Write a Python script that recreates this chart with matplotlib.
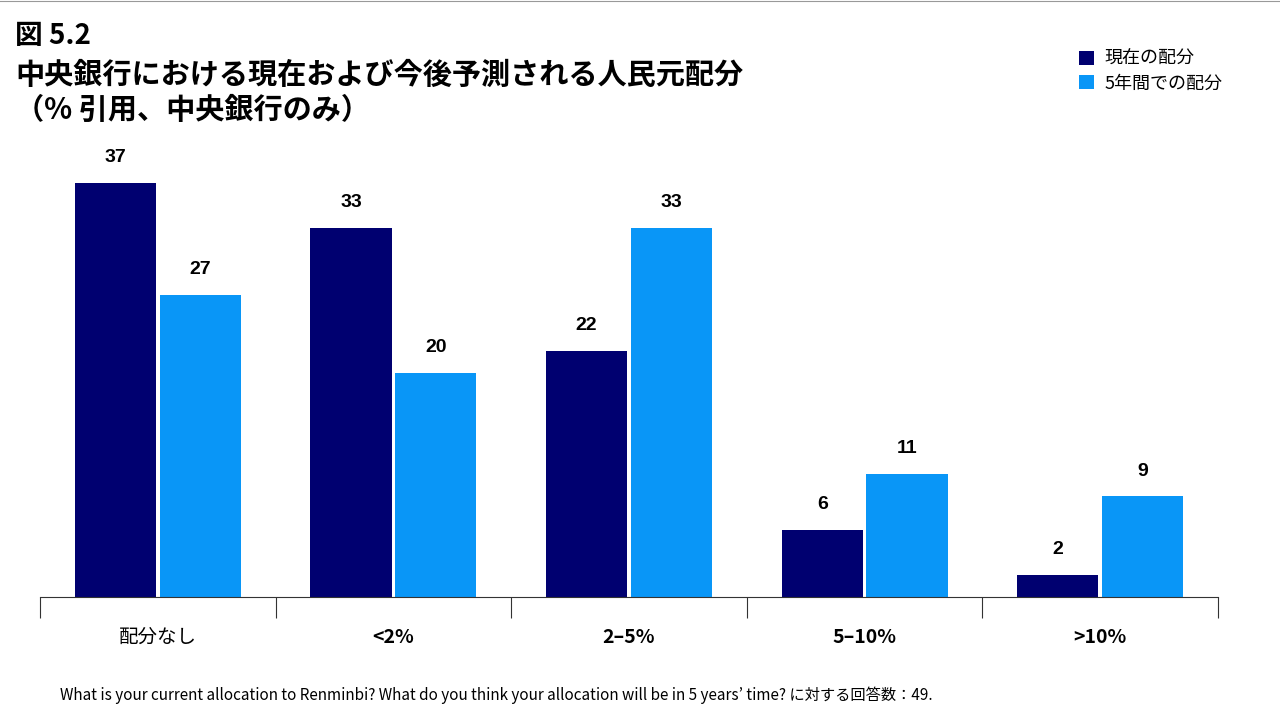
import matplotlib
matplotlib.use("Agg")
import matplotlib.pyplot as plt
import numpy as np

plt.rcParams["font.family"] = "Noto Sans CJK JP"

categories = ["配分なし", "<2%", "2–5%", "5–10%", ">10%"]
current = [37, 33, 22, 6, 2]
future = [27, 20, 33, 11, 9]
series_names = ["現在の配分", "5年間での配分"]

DARK = "#000070"
LIGHT = "#0996f7"

fig = plt.figure(figsize=(12.8, 7.2), dpi=100)
ax = fig.add_axes([40/1280, 123/720, 1218/1280 - 40/1280, 447.6/720])

x = np.arange(len(categories))
w = 0.345
ax.bar(x - 0.18, current, w, color=DARK, label=series_names[0])
ax.bar(x + 0.18, future, w, color=LIGHT, label=series_names[1])
for i in range(len(categories)):
    ax.text(x[i] - 0.18, current[i] + 1.5, str(current[i]), ha="center", va="bottom",
            fontsize=14, fontweight="bold", family="Liberation Sans")
    ax.text(x[i] + 0.18, future[i] + 1.5, str(future[i]), ha="center", va="bottom",
            fontsize=14, fontweight="bold", family="Liberation Sans")

ax.set_xlim(-0.5, len(categories) - 0.5)
ax.set_ylim(0, 40)
ax.set_yticks([])
for s in ["top", "right", "left"]:
    ax.spines[s].set_visible(False)
ax.spines["bottom"].set_color("#333333")
ax.set_xticks(np.arange(-0.5, len(categories), 1))
ax.set_xticklabels([])
ax.tick_params(axis="x", length=15, color="#333333")
for i, c in enumerate(categories):
    ax.text(x[i], -3.6, c, ha="center", va="center", fontsize=14,
            fontweight="normal" if i == 0 else "bold")

fig.add_artist(plt.Line2D([0, 1], [0.999, 0.999], color="#999999", lw=0.8))
fig.text(15/1280, 1 - 36/720, "図 5.2", fontsize=20, fontweight="bold", va="center")
fig.text(15/1280, 1 - 75/720, "中央銀行における現在および今後予測される人民元配分", fontsize=21,
         fontweight="bold", va="center")
fig.text(15/1280, 1 - 110/720, "（% 引用、中央銀行のみ）", fontsize=21, fontweight="bold", va="center")

leg = fig.legend(loc="upper left", bbox_to_anchor=(1072/1280, 1 - 43/720), frameon=False,
                 fontsize=13, handlelength=0.8, handleheight=0.8, handletextpad=0.6,
                 labelspacing=0.35, borderaxespad=0)

fig.text(60/1280, 1 - 695/720,
         "What is your current allocation to Renminbi? What do you think your allocation will be in 5 years’ time? に対する回答数：49.",
         fontsize=11, va="center")

fig.savefig("out.png")
